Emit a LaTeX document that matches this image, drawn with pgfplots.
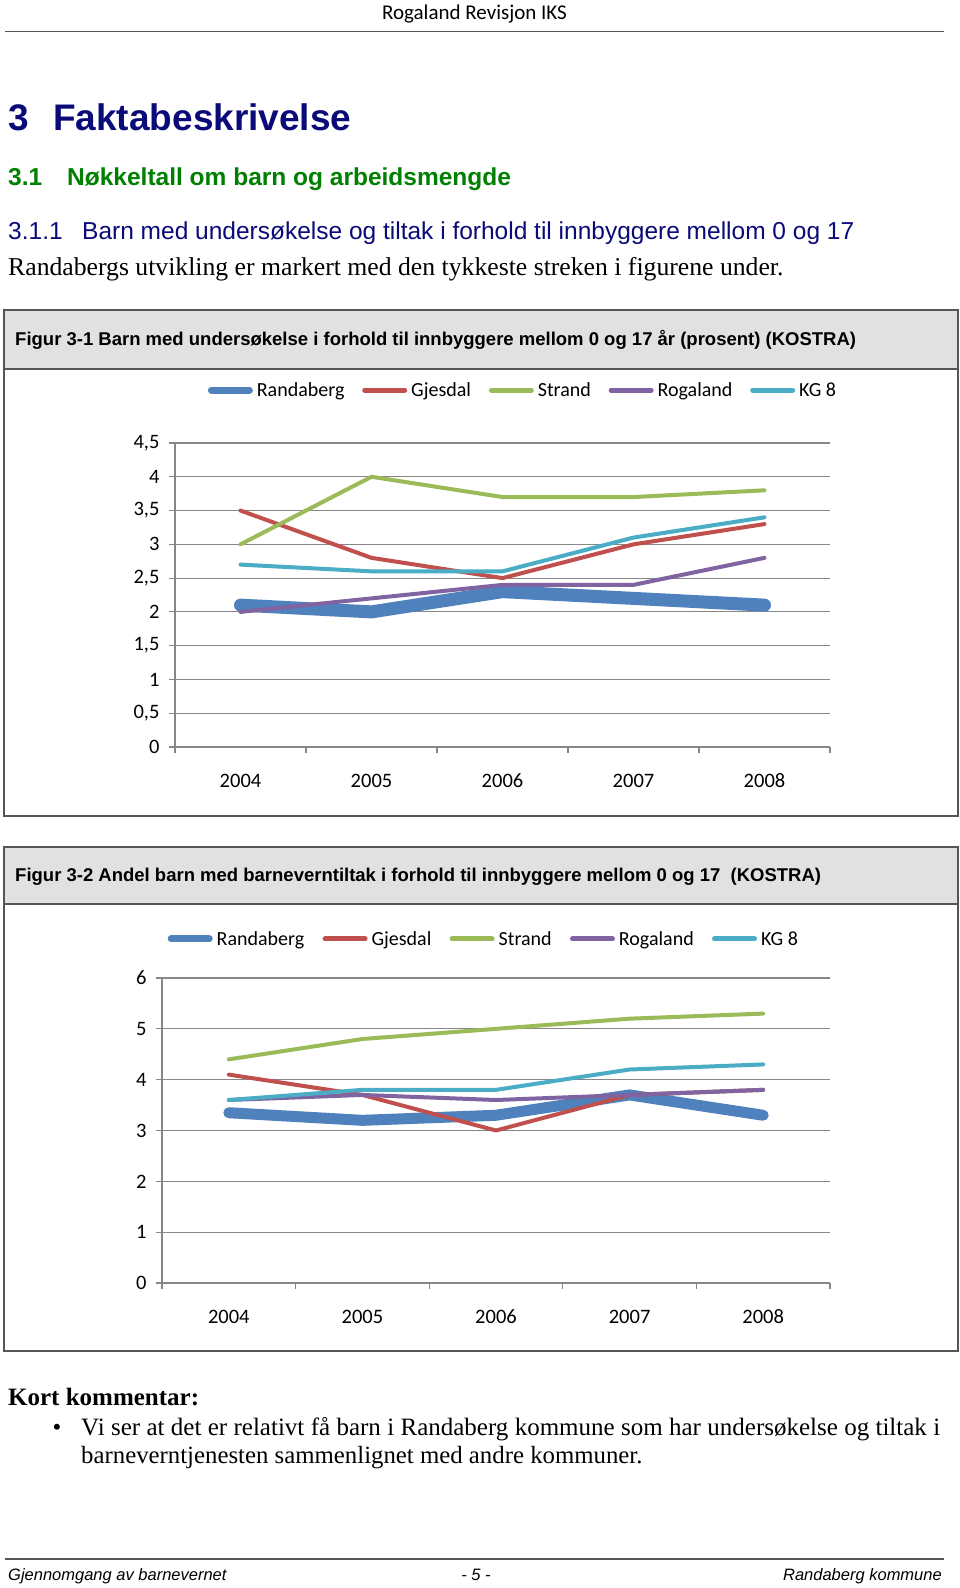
\documentclass[border=0pt]{standalone}
\usepackage{pgfplots}
\usepackage{pgfplotstable}
\pgfplotsset{compat=1.18}
\usepackage{fontspec}
\setmainfont{Liberation Serif}
\newfontfamily\arial{Liberation Sans}
\newfontfamily\calibri{Carlito}
\definecolor{cBlue}{HTML}{4F81BD}
\definecolor{cRed}{HTML}{C0504D}
\definecolor{cGreen}{HTML}{9BBB59}
\definecolor{cPurple}{HTML}{8064A2}
\definecolor{cCyan}{HTML}{4BACC6}
\definecolor{gridgray}{RGB}{134,134,134}
\definecolor{navy}{RGB}{10,10,120}
\definecolor{hgreen}{RGB}{0,128,0}
\definecolor{bandgray}{RGB}{225,225,225}
\definecolor{framegray}{RGB}{85,85,85}
\newcommand{\fs}[1]{\fontsize{#1}{#1}\selectfont}

\pgfplotstableread{
x Randaberg Gjesdal Strand Rogaland KG
0 2.1 3.5 3.0 2.0 2.7
1 2.0 2.8 4.0 2.2 2.6
2 2.3 2.5 3.7 2.4 2.6
3 2.2 3.0 3.7 2.4 3.1
4 2.1 3.3 3.8 2.8 3.4
}\dataA

\pgfplotstableread{
x Randaberg Gjesdal Strand Rogaland KG
0 3.35 4.1 4.4 3.6 3.6
1 3.2 3.7 4.8 3.7 3.8
2 3.3 3.0 5.0 3.6 3.8
3 3.7 3.7 5.2 3.7 4.2
4 3.3 3.8 5.3 3.8 4.3
}\dataB

\pgfplotsset{
 pagechart/.style={
   scale only axis, clip=false,
   xmin=-0.5, xmax=4.5,
   xtick={-0.5,0.5,1.5,2.5,3.5,4.5},
   x tick label as interval,
   xticklabels={2004,2005,2006,2007,2008},
   axis x line*=bottom, axis y line*=left,
   axis line style={draw=gridgray, line width=1.2pt, -},
   ymajorgrids, grid style={draw=gridgray, line width=1.2pt},
   tick align=outside, major tick length=6pt,
   tick style={draw=gridgray, line width=1.2pt},
   ticklabel style={font=\calibri\fs{20.5}, text=black},
   /pgf/number format/assume math mode=true,
   xticklabel style={yshift=-17pt, text height=13.5pt, text depth=0pt},
   yticklabel style={xshift=-6pt},
   legend style={draw=none, fill=none, legend columns=-1, font=\calibri\fs{20},
     inner sep=0pt, nodes={inner sep=1pt},
     /tikz/every odd column/.append style={column sep=3pt}},
   legend cell align=left,
 },
 thinleg/.style={line width=4pt, line cap=round, line join=round, no marks,
   legend image code/.code={\draw[##1, line width=5pt, line cap=round] (0pt,0pt) -- (40pt,0pt);}},
 thickleg/.style={line width=#1, line cap=round, line join=round, no marks,
   legend image code/.code={\draw[##1, line width=7pt, line cap=round] (0pt,0pt) -- (38pt,0pt);}},
}

\begin{document}
\begin{tikzpicture}
\begin{scope}[x=1pt,y=1pt]
\path[fill=white,use as bounding box] (0,0) rectangle (960,-1588);
% header
\node[anchor=base, inner sep=0, font=\calibri\fs{21}] at (474.5,-19) {Rogaland Revisjon IKS};
\draw[line width=1.6pt, framegray] (5,-31.5) -- (944,-31.5);
\node[anchor=base west, inner sep=0, font=\arial\bfseries\fs{37}, text=navy] at (8,-130) {3};
\node[anchor=base west, inner sep=0, font=\arial\bfseries\fs{37}, text=navy] at (53,-130) {Faktabeskrivelse};
\node[anchor=base west, inner sep=0, font=\arial\bfseries\fs{24.5}, text=hgreen] at (8,-185) {3.1};
\node[anchor=base west, inner sep=0, font=\arial\bfseries\fs{24.5}, text=hgreen] at (67,-185) {Nøkkeltall om barn og arbeidsmengde};
\node[anchor=base west, inner sep=0, font=\arial\fs{24.5}, text=navy] at (8,-239) {3.1.1};
\node[anchor=base west, inner sep=0, font=\arial\fs{24.5}, text=navy] at (82,-239) {Barn med undersøkelse og tiltak i forhold til innbyggere mellom 0 og 17};
\node[anchor=base west, inner sep=0, font=\fs{25.7}] at (8,-275) {Randabergs utvikling er markert med den tykkeste streken i figurene under.};
% chart 1 frame
\draw[framegray, line width=1.5pt, fill=white] (4,-310) rectangle (958,-816);
\draw[framegray, line width=1.5pt, fill=bandgray] (4,-310) rectangle (958,-369);
\node[anchor=base west, inner sep=0, font=\arial\bfseries\fs{18.5}] at (15,-345) {Figur 3-1 Barn med undersøkelse i forhold til innbyggere mellom 0 og 17 år (prosent) (KOSTRA)};
% chart 2 frame
\draw[framegray, line width=1.5pt, fill=white] (4,-847) rectangle (958,-1351);
\draw[framegray, line width=1.5pt, fill=bandgray] (4,-847) rectangle (958,-904);
\node[anchor=base west, inner sep=0, font=\arial\bfseries\fs{18.5}] at (15,-881) {Figur 3-2 Andel barn med barneverntiltak i forhold til innbyggere mellom 0 og 17\ \ (KOSTRA)};
% comment
\node[anchor=base west, inner sep=0, font=\bfseries\fs{25}] at (8,-1405) {Kort kommentar:};
\node[anchor=base west, inner sep=0, font=\fs{25}] at (52.5,-1435) {•};
\node[anchor=base west, inner sep=0, font=\fs{25}] at (81,-1435) {\makebox[859pt][s]{Vi ser at det er relativt få barn i Randaberg kommune som har undersøkelse og tiltak i}};
\node[anchor=base west, inner sep=0, font=\fs{24.8}] at (81,-1463) {barneverntjenesten sammenlignet med andre kommuner.};
% footer
\draw[line width=1.6pt, framegray] (5,-1559) -- (944,-1559);
\node[anchor=base west, inner sep=0, font=\arial\itshape\fs{16.5}] at (8,-1580) {Gjennomgang av barnevernet};
\node[anchor=base, inner sep=0, font=\arial\itshape\fs{16.5}] at (476,-1580) {- 5 -};
\node[anchor=base east, inner sep=0, font=\arial\itshape\fs{16.5}] at (942,-1580) {Randaberg kommune};
\end{scope}

\begin{axis}[
  pagechart,
  at={(175pt,-747pt)}, anchor=south west,
  width=655pt, height=304pt,
  ymin=0, ymax=4.5,
  ytick={0,0.5,1,1.5,2,2.5,3,3.5,4,4.5},
  yticklabels={0,{0,5},1,{1,5},2,{2,5},3,{3,5},4,{4,5}},
  legend style={at={(0.5305,1.174)}, anchor=center,
    /tikz/every even column/.append style={column sep=16.75pt}},
]
\addplot[thickleg=13pt, color=cBlue] table[x=x,y=Randaberg]{\dataA};
\addplot[thinleg, color=cRed] table[x=x,y=Gjesdal]{\dataA};
\addplot[thinleg, color=cGreen] table[x=x,y=Strand]{\dataA};
\addplot[thinleg, color=cPurple] table[x=x,y=Rogaland]{\dataA};
\addplot[thinleg, color=cCyan] table[x=x,y=KG]{\dataA};
\legend{Randaberg,Gjesdal,Strand,Rogaland,KG 8}
\end{axis}

\begin{axis}[
  pagechart,
  at={(162pt,-1283pt)}, anchor=south west,
  width=668pt, height=305pt,
  ymin=0, ymax=6,
  ytick={0,1,2,3,4,5,6},
  yticklabels={0,1,2,3,4,5,6},
  legend style={at={(0.481,1.128)}, anchor=center,
    /tikz/every even column/.append style={column sep=17.25pt}},
]
\addplot[thickleg=11pt, color=cBlue] table[x=x,y=Randaberg]{\dataB};
\addplot[thinleg, color=cRed] table[x=x,y=Gjesdal]{\dataB};
\addplot[thinleg, color=cGreen] table[x=x,y=Strand]{\dataB};
\addplot[thinleg, color=cPurple] table[x=x,y=Rogaland]{\dataB};
\addplot[thinleg, color=cCyan] table[x=x,y=KG]{\dataB};
\legend{Randaberg,Gjesdal,Strand,Rogaland,KG 8}
\end{axis}
\end{tikzpicture}
\end{document}
